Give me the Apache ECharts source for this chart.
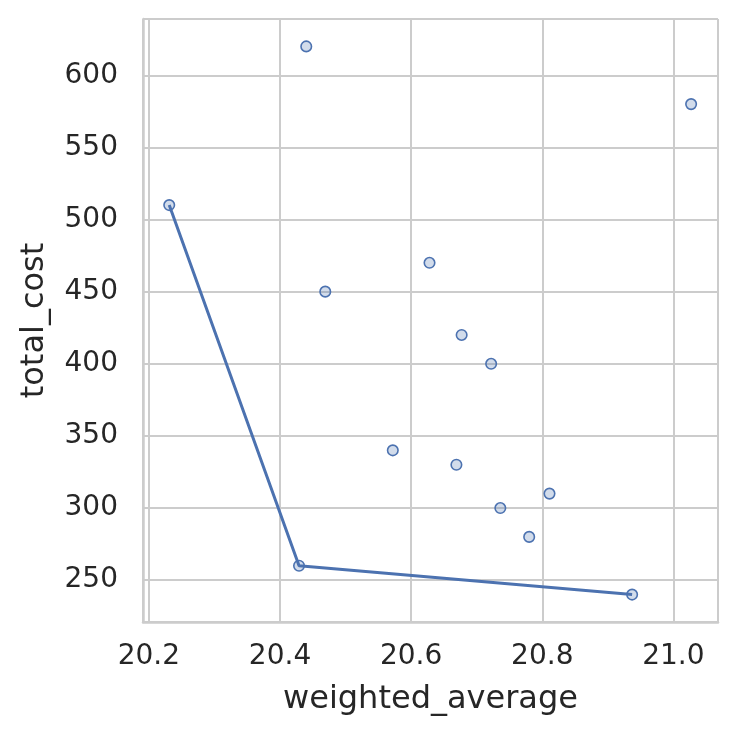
<!DOCTYPE html>
<html>
<head>
<meta charset="utf-8">
<script src="https://cdn.jsdelivr.net/npm/echarts@6/dist/echarts.min.js"></script>
<style>
  html, body { margin: 0; padding: 0; background: #fff; }
  #chart { width: 737px; height: 737px; }
</style>
</head>
<body>
<div id="chart"></div>
<script>
// all candidate solutions
var weightedAverage = [20.231, 20.440, 21.027, 20.469, 20.628, 20.677, 20.722, 20.572, 20.669, 20.736, 20.811, 20.780, 20.429, 20.937];
var totalCost       = [510,    620,    580,    450,    470,    420,    400,    340,    330,    300,    310,    280,    260,    240];

// pareto front (sorted by weighted_average)
var frontX = [20.231, 20.429, 20.937];
var frontY = [510, 260, 240];

var myChart = echarts.init(document.getElementById('chart'));

var points = [];
for (var i = 0; i < weightedAverage.length; i++) {
    points.push([weightedAverage[i], totalCost[i]]);
}
var front = [];
for (var j = 0; j < frontX.length; j++) {
    front.push([frontX[j], frontY[j]]);
}

var font = 'DejaVu Sans';
var ink = '#262626';
var blue = '#4c72b0';

var option = {
    backgroundColor: '#ffffff',
    animation: false,
    grid: { left: 143, right: 19, top: 19, bottom: 115, containLabel: false },
    xAxis: {
        type: 'value',
        min: 20.191,
        max: 21.068,
        minInterval: 0.2,
        maxInterval: 0.2,
        name: 'weighted_average',
        nameLocation: 'middle',
        nameGap: 62,
        nameTextStyle: { color: ink, fontSize: 32, fontFamily: font },
        axisLine: { show: true, lineStyle: { color: '#cccccc', width: 2.5 } },
        axisTick: { show: false },
        axisLabel: {
            color: ink, fontSize: 28, fontFamily: font, margin: 21,
            showMinLabel: false, showMaxLabel: false,
            formatter: function (v) { return v.toFixed(1); }
        },
        splitLine: { show: true, lineStyle: { color: '#cccccc', width: 2 } }
    },
    yAxis: {
        type: 'value',
        min: 221,
        max: 639,
        minInterval: 50,
        maxInterval: 50,
        name: 'total_cost',
        nameLocation: 'middle',
        nameGap: 92,
        nameRotate: 90,
        nameTextStyle: { color: ink, fontSize: 32, fontFamily: font },
        axisLine: { show: true, lineStyle: { color: '#cccccc', width: 2.5 } },
        axisTick: { show: false },
        axisLabel: {
            color: ink, fontSize: 28, fontFamily: font, margin: 25,
            showMinLabel: false, showMaxLabel: false
        },
        splitLine: { show: true, lineStyle: { color: '#cccccc', width: 2 } }
    },
    series: [
        {
            type: 'line',
            data: front,
            showSymbol: false,
            lineStyle: { color: blue, width: 3 },
            z: 2
        },
        {
            type: 'scatter',
            data: points,
            symbolSize: 10.5,
            itemStyle: { color: 'rgba(76,114,176,0.25)', borderColor: blue, borderWidth: 1.6, opacity: 1 },
            z: 3
        }
    ]
};

myChart.setOption(option);
</script>
</body>
</html>
